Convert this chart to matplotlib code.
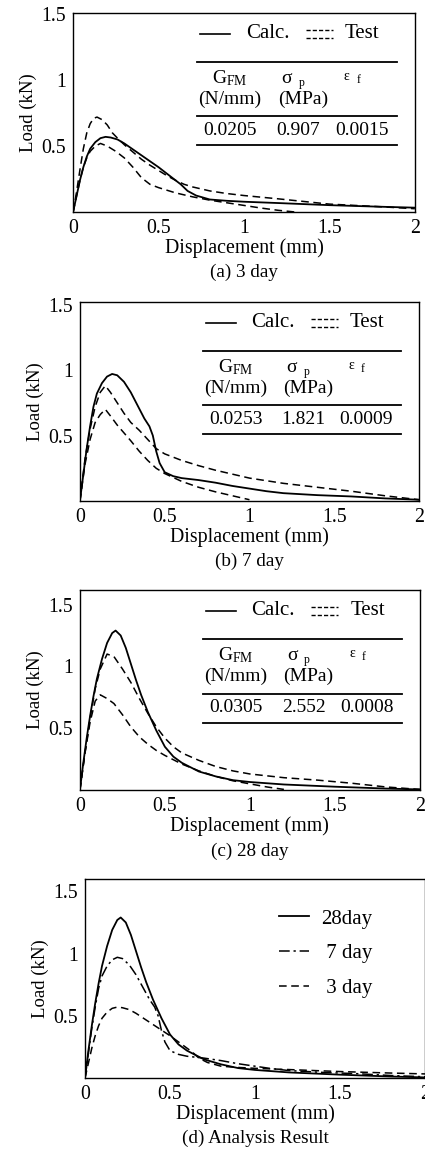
import matplotlib
matplotlib.use("Agg")
import matplotlib.pyplot as plt

plt.rcParams['font.family'] = ['Liberation Serif', 'DejaVu Serif']
plt.rcParams['mathtext.fontset'] = 'custom'
plt.rcParams['mathtext.rm'] = 'Liberation Serif'
plt.rcParams['mathtext.it'] = 'Liberation Serif:italic'

# ---- (a) 3 day ----
a_calc_x = [0, 0.02, 0.04, 0.06, 0.08, 0.10, 0.13, 0.16, 0.19, 0.22, 0.26, 0.30, 0.35, 0.40, 0.45,
            0.50, 0.55, 0.60, 0.63, 0.67, 0.72, 0.80, 0.90, 1.0, 1.2, 1.5, 1.8, 2.0]
a_calc_y = [0, 0.12, 0.24, 0.34, 0.42, 0.48, 0.53, 0.56, 0.57, 0.565, 0.55, 0.52, 0.475, 0.43, 0.385,
            0.34, 0.29, 0.24, 0.21, 0.16, 0.125, 0.095, 0.085, 0.078, 0.068, 0.052, 0.04, 0.033]
a_test1_x = [0, 0.02, 0.04, 0.06, 0.08, 0.10, 0.12, 0.14, 0.17, 0.20, 0.23, 0.26, 0.30, 0.35, 0.40,
             0.45, 0.50, 0.55, 0.60, 0.65, 0.70, 0.80, 0.90, 1.0, 1.2, 1.5, 1.8, 2.0]
a_test1_y = [0, 0.15, 0.32, 0.48, 0.60, 0.67, 0.71, 0.72, 0.70, 0.66, 0.60, 0.56, 0.51, 0.455, 0.40,
             0.355, 0.315, 0.275, 0.24, 0.21, 0.19, 0.16, 0.14, 0.125, 0.10, 0.06, 0.04, 0.025]
a_test2_x = [0, 0.02, 0.04, 0.06, 0.08, 0.10, 0.13, 0.16, 0.20, 0.25, 0.30, 0.35, 0.40, 0.45, 0.50,
             0.60, 0.70, 0.80, 0.90, 1.0, 1.1, 1.2, 1.3]
a_test2_y = [0, 0.12, 0.24, 0.34, 0.41, 0.46, 0.50, 0.52, 0.50, 0.46, 0.41, 0.34, 0.26, 0.21, 0.185,
             0.145, 0.115, 0.09, 0.07, 0.05, 0.03, 0.013, 0.0]

# ---- (b) 7 day ----
b_calc_x = [0, 0.02, 0.04, 0.06, 0.08, 0.10, 0.13, 0.16, 0.19, 0.22, 0.26, 0.30, 0.34, 0.38, 0.41,
            0.43, 0.45, 0.47, 0.50, 0.55, 0.60, 0.70, 0.80, 0.90, 1.0, 1.1, 1.2, 1.4, 1.6, 1.8, 2.0]
b_calc_y = [0, 0.20, 0.40, 0.57, 0.72, 0.82, 0.90, 0.95, 0.97, 0.96, 0.91, 0.83, 0.73, 0.63, 0.57,
            0.50, 0.38, 0.29, 0.22, 0.19, 0.175, 0.16, 0.14, 0.115, 0.095, 0.075, 0.06, 0.045, 0.035, 0.02, 0.01]
b_test1_x = [0, 0.03, 0.06, 0.09, 0.12, 0.15, 0.18, 0.22, 0.26, 0.30, 0.35, 0.40, 0.45, 0.50, 0.60,
             0.70, 0.80, 0.90, 1.0, 1.2, 1.4, 1.6, 1.8, 2.0]
b_test1_y = [0, 0.32, 0.55, 0.72, 0.83, 0.88, 0.83, 0.75, 0.67, 0.60, 0.54, 0.47, 0.40, 0.36, 0.31,
             0.27, 0.235, 0.205, 0.175, 0.135, 0.105, 0.075, 0.04, 0.01]
b_test2_x = [0, 0.03, 0.06, 0.09, 0.12, 0.15, 0.18, 0.22, 0.26, 0.30, 0.35, 0.40, 0.45, 0.50, 0.60,
             0.70, 0.80, 0.90, 1.0]
b_test2_y = [0, 0.28, 0.47, 0.60, 0.66, 0.70, 0.65, 0.58, 0.52, 0.46, 0.38, 0.31, 0.25, 0.21, 0.15,
             0.105, 0.07, 0.04, 0.01]

# ---- (c) 28 day ----
c_calc_x = [0, 0.02, 0.04, 0.06, 0.08, 0.10, 0.13, 0.16, 0.19, 0.21, 0.24, 0.27, 0.30, 0.33, 0.36,
            0.40, 0.45, 0.50, 0.55, 0.60, 0.70, 0.80, 0.90, 1.0, 1.2, 1.5, 1.8, 2.0]
c_calc_y = [0, 0.22, 0.42, 0.60, 0.76, 0.90, 1.06, 1.19, 1.27, 1.29, 1.25, 1.15, 1.02, 0.89, 0.77,
            0.63, 0.48, 0.35, 0.27, 0.22, 0.15, 0.11, 0.08, 0.065, 0.045, 0.027, 0.012, 0.005]
c_test1_x = [0, 0.03, 0.06, 0.09, 0.12, 0.16, 0.20, 0.25, 0.30, 0.35, 0.40, 0.45, 0.50, 0.55, 0.60,
             0.70, 0.80, 0.90, 1.0, 1.2, 1.4, 1.6, 1.8, 2.0]
c_test1_y = [0, 0.30, 0.58, 0.82, 0.98, 1.10, 1.08, 0.98, 0.87, 0.74, 0.62, 0.51, 0.42, 0.35, 0.30,
             0.24, 0.19, 0.155, 0.13, 0.10, 0.08, 0.055, 0.025, 0.005]
c_test2_x = [0, 0.03, 0.06, 0.09, 0.12, 0.16, 0.20, 0.25, 0.30, 0.35, 0.40, 0.45, 0.50, 0.60, 0.70,
             0.80, 0.90, 1.0, 1.1, 1.2]
c_test2_y = [0, 0.30, 0.55, 0.72, 0.77, 0.74, 0.70, 0.61, 0.51, 0.43, 0.37, 0.32, 0.28, 0.21, 0.155,
             0.11, 0.075, 0.05, 0.025, 0.005]

tables = [("0.0205", "0.907", "0.0015"),
          ("0.0253", "1.821", "0.0009"),
          ("0.0305", "2.552", "0.0008")]
captions = ["(a) 3 day", "(b) 7 day", "(c) 28 day", "(d) Analysis Result"]
ytops = [1.51, 1.52, 1.62, 1.6]
d_labels = ["28day", " 7 day", " 3 day"]

fig = plt.figure(figsize=(4.25, 11.51), dpi=100)
boxes = [(0.172, 0.8158, 0.804, 0.173),
         (0.188, 0.5647, 0.798, 0.173),
         (0.188, 0.3136, 0.800, 0.174),
         (0.200, 0.0634, 0.800, 0.173)]

DASH = (0, (5, 3))
DASHDOT = (0, (7, 2.5, 1.5, 2.5))
FS = 14.3
TFS = 14


def style_axes(ax, i):
    ax.set_xlim(0, 2)
    ax.set_ylim(0, ytops[i])
    ax.set_xticks([0, 0.5, 1, 1.5, 2])
    ax.set_xticklabels(["0", "0.5", "1", "1.5", "2"])
    ax.set_yticks([0.5, 1, 1.5])
    ax.set_yticklabels(["0.5", "1", "1.5"])
    ax.tick_params(length=0, labelsize=FS, pad=5)
    for s in ax.spines.values():
        s.set_linewidth(1.0)
    ax.set_xlabel("Displacement (mm)", fontsize=FS, labelpad=0)
    ax.set_ylabel("Load (kN)", fontsize=13.5, labelpad=3)
    ax.text(0.5, -0.305, captions[i], transform=ax.transAxes, ha="center", va="center", fontsize=13.8)


def legend_table(ax, vals):
    tr = ax.transAxes
    # legend row
    ax.plot([0.371, 0.459], [0.895, 0.895], color="k", lw=1.2, transform=tr)
    ax.text(0.505, 0.895, "Calc.", transform=tr, ha="left", va="center", fontsize=15)
    ax.plot([0.681, 0.76], [0.915, 0.915], color="k", lw=1.0, ls=(0, (3, 1.5)), transform=tr)
    ax.plot([0.681, 0.76], [0.875, 0.875], color="k", lw=1.0, ls=(0, (3, 1.5)), transform=tr)
    ax.text(0.795, 0.895, "Test", transform=tr, ha="left", va="center", fontsize=15)
    # table rules
    for yy in [0.754, 0.482, 0.337]:
        ax.plot([0.363, 0.947], [yy, yy], color="k", lw=1.3, transform=tr)
    ax.text(0.459, 0.672, r"G$_{\mathrm{FM}}$", transform=tr, ha="center", va="center", fontsize=TFS)
    ax.text(0.625, 0.672, "σ", transform=tr, ha="center", va="center", fontsize=TFS)
    ax.text(0.668, 0.650, "p", transform=tr, ha="center", va="center", fontsize=8.5)
    ax.text(0.80, 0.682, "ε", transform=tr, ha="center", va="center", fontsize=10)
    ax.text(0.835, 0.662, "f", transform=tr, ha="center", va="center", fontsize=8.5)
    ax.text(0.459, 0.568, "(N/mm)", transform=tr, ha="center", va="center", fontsize=TFS)
    ax.text(0.672, 0.568, "(MPa)", transform=tr, ha="center", va="center", fontsize=TFS)
    cols = [0.459, 0.66, 0.845]
    for c, v in zip(cols, vals):
        ax.text(c, 0.41, v, transform=tr, ha="center", va="center", fontsize=TFS)


series = [
    (a_calc_x, a_calc_y, a_test1_x, a_test1_y, a_test2_x, a_test2_y),
    (b_calc_x, b_calc_y, b_test1_x, b_test1_y, b_test2_x, b_test2_y),
    (c_calc_x, c_calc_y, c_test1_x, c_test1_y, c_test2_x, c_test2_y),
]

for i in range(3):
    ax = fig.add_axes(boxes[i])
    cx, cy, t1x, t1y, t2x, t2y = series[i]
    ax.plot(cx, cy, color="k", lw=1.3)
    ax.plot(t1x, t1y, color="k", lw=1.1, ls=DASH)
    ax.plot(t2x, t2y, color="k", lw=1.1, ls=DASH)
    style_axes(ax, i)
    legend_table(ax, tables[i])

# ---- (d) analysis result ----
ax = fig.add_axes(boxes[3])
ax.plot(c_calc_x, c_calc_y, color="k", lw=1.3, label=d_labels[0])
ax.plot(b_calc_x, b_calc_y, color="k", lw=1.1, ls=DASHDOT, label=d_labels[1])
ax.plot(a_calc_x, a_calc_y, color="k", lw=1.1, ls=DASH, label=d_labels[2])
style_axes(ax, 3)
ax.legend(loc="upper left", bbox_to_anchor=(0.545, 0.89), frameon=False, fontsize=15,
          handlelength=1.45, handletextpad=0.6, labelspacing=0.72, borderaxespad=0)

fig.savefig("out.png", dpi=100)
